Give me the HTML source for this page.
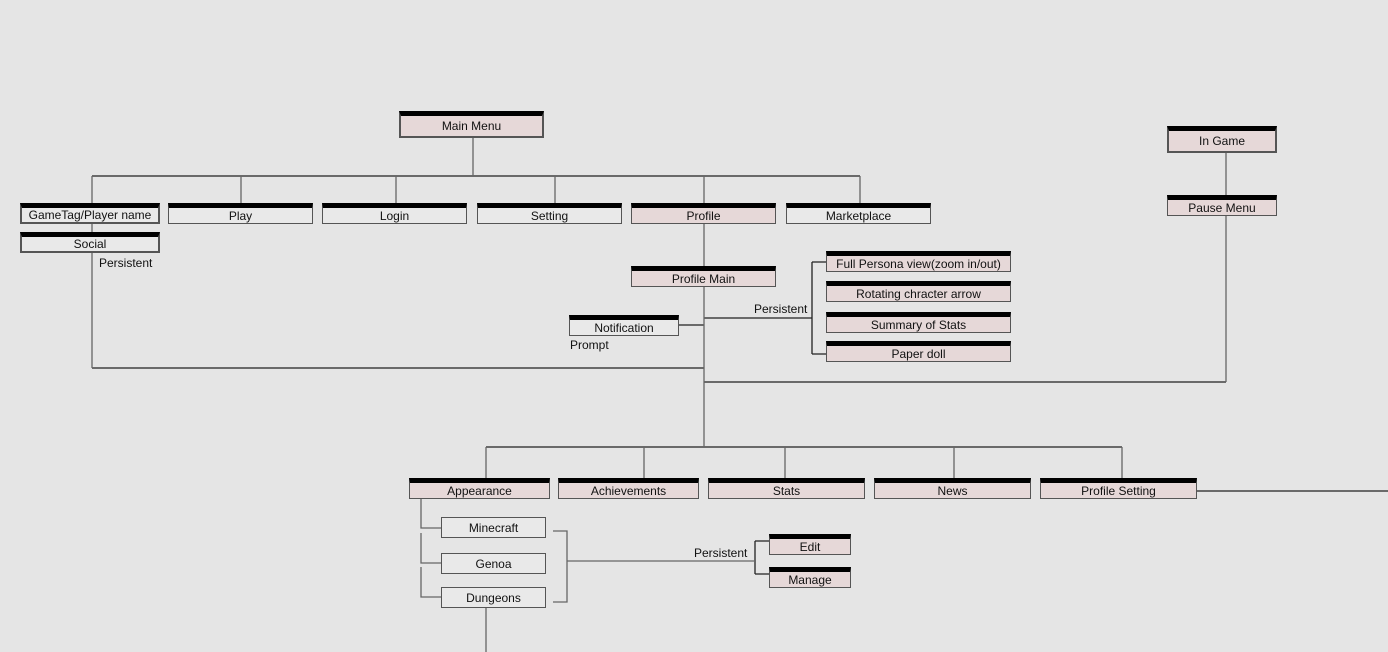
<!DOCTYPE html>
<html><head><style>
body{margin:0;width:1388px;height:652px;background:#e5e5e5;position:relative;overflow:hidden;font-family:"Liberation Sans",sans-serif;}
.b{position:absolute;box-sizing:border-box;border:1px solid #555;border-top:5px solid #000;background:#e6d8d8;font-size:12px;color:#111;text-align:center;display:flex;align-items:center;justify-content:center;}
.w{background:#e9e9e9;}
.n{border-top:1px solid #555;background:#e9e9e9;}
.t{position:absolute;font-size:12px;color:#111;}
svg{position:absolute;left:0;top:0;}
</style></head><body>
<svg width="1388" height="652" fill="none" stroke-width="1.3">
<g stroke="#222">
<path d="M92 176H860"/>
<path d="M92 368H704M704 382H1226M486 447H1122M1197 491H1388"/>
<path d="M704 318H812M812 262V354M812 262H826M812 354H826M679 325H704"/>
<path d="M755 541V574M755 541H769M755 574H769"/>
</g>
<g stroke="#666">
<path d="M473 138V176M92 176V203M241 176V203M396 176V203M555 176V203M704 176V203M860 176V203"/>
<path d="M92 223V232M92 252V368M704 223V266M704 287V447M1226 153V195M1226 216V382"/>
<path d="M486 447V478M644 447V478M785 447V478M954 447V478M1122 447V478"/>
<path d="M421 499V528H441M421 533V563H441M421 567V597H441"/>
<path d="M553 531H567V602H553M567 561H755M486 608V652"/>
</g>
</svg>
<div class="b" style="left:399px;top:111px;width:145px;height:27px;border-width:2px;border-top-width:5px">Main Menu</div>
<div class="b" style="left:1167px;top:126px;width:110px;height:27px;border-width:2px;border-top-width:5px">In Game</div>
<div class="b" style="left:1167px;top:195px;width:110px;height:21px">Pause Menu</div>
<div class="b w" style="left:20px;top:203px;width:140px;height:21px;border-width:2px;border-top-width:5px">GameTag/Player name</div>
<div class="b w" style="left:20px;top:232px;width:140px;height:21px;border-width:2px;border-top-width:5px">Social</div>
<div class="t" style="left:99px;top:256px">Persistent</div>
<div class="b w" style="left:168px;top:203px;width:145px;height:21px">Play</div>
<div class="b w" style="left:322px;top:203px;width:145px;height:21px">Login</div>
<div class="b w" style="left:477px;top:203px;width:145px;height:21px">Setting</div>
<div class="b" style="left:631px;top:203px;width:145px;height:21px">Profile</div>
<div class="b w" style="left:786px;top:203px;width:145px;height:21px">Marketplace</div>
<div class="b" style="left:631px;top:266px;width:145px;height:21px">Profile Main</div>
<div class="b w" style="left:569px;top:315px;width:110px;height:21px">Notification</div>
<div class="t" style="left:570px;top:338px">Prompt</div>
<div class="t" style="left:754px;top:302px">Persistent</div>
<div class="b" style="left:826px;top:251px;width:185px;height:21px">Full Persona view(zoom in/out)</div>
<div class="b" style="left:826px;top:281px;width:185px;height:21px">Rotating chracter arrow</div>
<div class="b" style="left:826px;top:312px;width:185px;height:21px">Summary of Stats</div>
<div class="b" style="left:826px;top:341px;width:185px;height:21px">Paper doll</div>
<div class="b" style="left:409px;top:478px;width:141px;height:21px">Appearance</div>
<div class="b" style="left:558px;top:478px;width:141px;height:21px">Achievements</div>
<div class="b" style="left:708px;top:478px;width:157px;height:21px">Stats</div>
<div class="b" style="left:874px;top:478px;width:157px;height:21px">News</div>
<div class="b" style="left:1040px;top:478px;width:157px;height:21px">Profile Setting</div>
<div class="b n" style="left:441px;top:517px;width:105px;height:21px">Minecraft</div>
<div class="b n" style="left:441px;top:553px;width:105px;height:21px">Genoa</div>
<div class="b n" style="left:441px;top:587px;width:105px;height:21px">Dungeons</div>
<div class="t" style="left:694px;top:546px">Persistent</div>
<div class="b" style="left:769px;top:534px;width:82px;height:21px">Edit</div>
<div class="b" style="left:769px;top:567px;width:82px;height:21px">Manage</div>
</body></html>
